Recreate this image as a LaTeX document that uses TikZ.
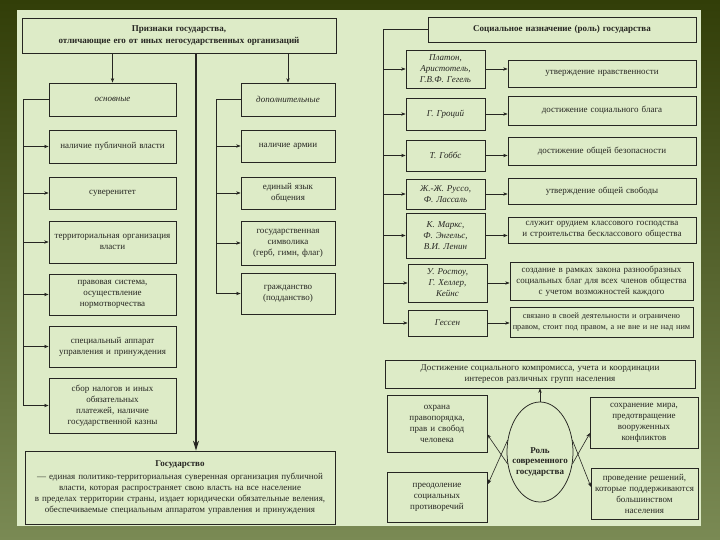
\documentclass[tikz,border=0pt]{standalone}
\usepackage{fontspec}
\setmainfont{Liberation Serif}
\usetikzlibrary{arrows.meta,shapes.geometric,calc}
\definecolor{panel}{RGB}{221,235,199}
\definecolor{bgtop}{RGB}{50,62,8}
\definecolor{bgbot}{RGB}{122,138,84}
\definecolor{ink}{RGB}{38,38,34}
\tikzset{
  box/.style={draw=ink, line width=0.75pt, align=center, inner sep=1pt, text=ink,
    font=\fontsize{9}{11}\selectfont},
  ln/.style={draw=ink, line width=0.6pt},
  arr/.style={ln, -{Stealth[length=4.5pt,width=3.4pt]}},
  bigarr/.style={draw=ink, line width=1.1pt, -{Stealth[length=10pt,width=6pt]}},
  ell/.style={ellipse, draw=ink, line width=0.75pt, inner sep=0pt},
  elltext/.style={align=center, inner sep=0pt, text=ink, font=\bfseries\fontsize{9}{10.5}\selectfont},
}
\newcommand{\panelbox}[7][]{%
  \pgfmathsetmacro\pbcx{(#3+#5)/2}\pgfmathsetmacro\pbcy{(#4+#6)/2}%
  \pgfmathsetmacro\pbw{#5-#3}\pgfmathsetmacro\pbh{#6-#4}\pgfmathsetmacro\pbt{#5-#3-3}%
  \node[box,minimum width=\pbw pt,minimum height=\pbh pt,text width=\pbt pt,#1] (#2) at (\pbcx,\pbcy) {#7};}
\begin{document}
\begin{tikzpicture}[x=1pt,y=-1pt]
\useasboundingbox (0,0) rectangle (720,540);
\shade[top color=bgtop, bottom color=bgbot] (0,0) rectangle (720,540);
\fill[panel] (17,10) rectangle (701,526);
% ---------- left part ----------
\panelbox[font=\bfseries\fontsize{9}{11.5}\selectfont]{title}{22}{18}{336}{53}{Признаки государства,\\отличающие его от иных негосударственных организаций}
\panelbox[font=\itshape\fontsize{9}{11}\selectfont]{osn}{49}{83}{176}{116}{основные}
\panelbox[font=\itshape\fontsize{9}{11}\selectfont]{dop}{241}{83}{335}{116}{дополнительные}
\panelbox{L1}{49}{130}{176}{163}{наличие публичной власти}
\panelbox{L2}{49}{177}{176}{209}{суверенитет}
\panelbox{L3}{49}{221}{176}{263}{территориальная организация\\власти}
\panelbox{L4}{49}{274}{176}{315}{правовая система,\\осуществление\\нормотворчества}
\panelbox{L5}{49}{326}{176}{367}{специальный аппарат\\управления и принуждения}
\panelbox{L6}{49}{378}{176}{433}{сбор налогов и иных\\обязательных\\платежей, наличие\\государственной казны}
\panelbox{R1}{241}{130}{335}{162}{наличие армии}
\panelbox{R2}{241}{177}{335}{209}{единый язык\\общения}
\panelbox{R3}{241}{221}{335}{265}{государственная\\символика\\(герб, гимн, флаг)}
\panelbox{R4}{241}{273}{335}{314}{гражданство\\(подданство)}
\panelbox{state}{25}{451}{335}{524}{\textbf{Государство}\\[2pt]— единая политико-территориальная суверенная организация публичной\\власти, которая распространяет свою власть на все население\\в пределах территории страны, издает юридически обязательные веления,\\обеспечиваемые специальным аппаратом управления и принуждения}
\coordinate (cx) at (196,0);
\coordinate (lb) at (23,0);
\coordinate (rb) at (216,0);
\draw[arr] (title.south -| osn.north) -- (osn.north);
\draw[arr] (title.south -| dop.north) -- (dop.north);
\draw[bigarr] (title.south -| cx) -- (state.north -| cx);
\draw[ln] (osn.west) -- (osn.west -| lb) -- (L6.west -| lb);
\foreach \n in {L1,L2,L3,L4,L5,L6} \draw[arr] (\n.west -| lb) -- (\n.west);
\draw[ln] (dop.west) -- (dop.west -| rb) -- (R4.west -| rb);
\foreach \n in {R1,R2,R3,R4} \draw[arr] (\n.west -| rb) -- (\n.west);
% ---------- right part ----------
\panelbox[font=\bfseries\fontsize{9}{11}\selectfont]{rtitle}{428}{17}{696}{42}{Социальное назначение (роль) государства}
\tikzset{auth/.style={font=\itshape\fontsize{9}{11}\selectfont}}
\panelbox[auth]{A1}{406}{50}{485}{88}{Платон,\\Аристотель,\\Г.В.Ф. Гегель}
\panelbox[auth]{A2}{406}{98}{485}{130}{Г. Гроций}
\panelbox[auth]{A3}{406}{140}{485}{171}{Т. Гоббс}
\panelbox[auth]{A4}{406}{179}{485}{209}{Ж.-Ж. Руссо,\\Ф. Лассаль}
\panelbox[auth]{A5}{406}{213}{485}{258}{К. Маркс,\\Ф. Энгельс,\\В.И. Ленин}
\panelbox[auth]{A6}{408}{264}{487}{302}{У. Ростоу,\\Г. Хеллер,\\Кейнс}
\panelbox[auth]{A7}{408}{310}{487}{336}{Гессен}
\panelbox{G1}{508}{60}{696}{87}{утверждение нравственности}
\panelbox{G2}{508}{96}{696}{125}{достижение социального блага}
\panelbox{G3}{508}{137}{696}{165}{достижение общей безопасности}
\panelbox{G4}{508}{178}{696}{204}{утверждение общей свободы}
\panelbox{G5}{508}{217}{696}{243}{служит орудием классового господства\\и строительства бесклассового общества}
\panelbox{G6}{510}{262}{693}{300}{создание в рамках закона разнообразных\\социальных благ для всех членов общества\\с учетом возможностей каждого}
\panelbox[font=\fontsize{8.3}{11}\selectfont, inner sep=0.5pt]{G7}{510}{307}{693}{337}{связано в своей деятельности и ограничено\\правом, стоит под правом, а не вне и не над ним}
\coordinate (ab) at (383,0);
\draw[ln] (rtitle.west) -- (rtitle.west -| ab) -- (A7.west -| ab);
\foreach \n in {A1,A2,A3,A4,A5,A6,A7} \draw[arr] (\n.west -| ab) -- (\n.west);
\foreach \a/\g in {A1/G1,A2/G2,A3/G3,A4/G4,A5/G5,A6/G6,A7/G7} \draw[arr] (\a.east) -- (\a.east -| \g.west);
% ---------- bottom right ----------
\panelbox{D}{385}{360}{695}{388}{Достижение социального компромисса, учета и координации\\интересов различных групп населения}
\panelbox{ohr}{387}{395}{487}{452}{охрана\\правопорядка,\\прав и свобод\\человека}
\panelbox{mir}{590}{397}{698}{448}{сохранение мира,\\предотвращение\\вооруженных\\конфликтов}
\panelbox{preod}{387}{472}{487}{522}{преодоление\\социальных\\противоречий}
\panelbox{prov}{591}{468}{698}{519}{проведение решений,\\которые поддерживаются\\большинством\\населения}
\node[ell, minimum width=66pt, minimum height=100pt] (role) at (540,452) {};
\node[elltext] (roletext) at (540,462) {Роль\\современного\\государства};
\draw[arr] (role.north) -- (D.south -| role.north);
\coordinate (t1) at (487,434);
\coordinate (t2) at (488,484);
\coordinate (t3) at (590,433);
\coordinate (t4) at (591,487);
\draw[arr] (role.200) -- (t1);
\draw[arr] (role.160) -- (t2);
\draw[arr] (role.340) -- (t3);
\draw[arr] (role.20) -- (t4);
\end{tikzpicture}
\end{document}
